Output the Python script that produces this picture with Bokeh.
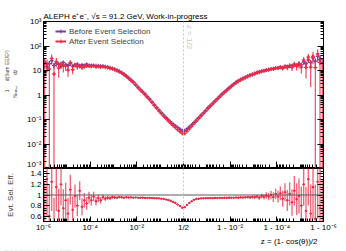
import numpy as np
from bokeh.plotting import figure
from bokeh.models import (FixedTicker, Label, Span, LinearAxis, LogAxis, Legend,
                          LegendItem, ColumnDataSource, Range1d, CustomLabelingPolicy, Title)
from bokeh.layouts import column
from bokeh.embed import file_html
from bokeh.resources import INLINE

# ---------------- data ----------------
# bins on the folded log axis: 0 = 1e-6, 6 = 1/2, 12 = 1 - 1e-6 (0.1 per bin)
bin_width = 0.1

before = [
    22, 14, 19, 25, 16, 20, 18, 15, 21, 17,
    16, 19, 15, 17, 18, 14.5, 17, 16, 18, 16,
    16.2, 16.0, 15.8, 15.6, 15.3, 15.0, 14.5, 13.8, 13.0, 12.2,
    11.3, 10.3, 9.3, 8.2, 7.1, 6.0, 5.0, 4.1, 3.4, 2.7,
    2.1, 1.68, 1.35, 1.09, 0.86, 0.68, 0.52, 0.40, 0.31, 0.24,
    0.19, 0.15, 0.12, 0.097, 0.079, 0.065, 0.055, 0.047, 0.040, 0.035,
    0.035, 0.041, 0.049, 0.060, 0.075, 0.094, 0.118, 0.148, 0.186, 0.234,
    0.30, 0.37, 0.46, 0.57, 0.71, 0.88, 1.1, 1.33, 1.6, 1.95,
    2.35, 2.8, 3.3, 3.8, 4.3, 4.8, 5.3, 5.9, 6.5, 7.0,
    7.6, 8.3, 8.9, 9.4, 9.9, 10.4, 10.9, 11.4, 11.9, 12.4,
    12.8, 13.4, 13.1, 14.2, 14.6, 15.5, 15.6, 16.8, 16.2, 18.5,
    17, 22, 19, 27, 21, 33, 24, 38, 28, 20,
]

eff = [
    0.35, 1.3, 0.6, 1.25, 0.45, 1.15, 0.7, 1.2, 0.75, 0.9,
    0.65, 1.1, 0.72, 0.98, 0.8, 1.08, 0.78, 0.9, 0.84, 0.95,
    0.9, 0.97, 0.88, 0.94, 0.9, 0.96, 0.93, 0.95, 0.94, 0.96,
    0.955, 0.95, 0.96, 0.955, 0.95, 0.957, 0.952, 0.955, 0.95, 0.953,
    0.95, 0.948, 0.95, 0.946, 0.944, 0.945, 0.942, 0.94, 0.938, 0.935,
    0.93, 0.925, 0.915, 0.905, 0.89, 0.87, 0.85, 0.82, 0.79, 0.76,
    0.77, 0.81, 0.85, 0.88, 0.91, 0.925, 0.93, 0.935, 0.937, 0.94,
    0.94, 0.942, 0.94, 0.945, 0.943, 0.946, 0.944, 0.947, 0.945, 0.95,
    0.948, 0.95, 0.953, 0.95, 0.955, 0.952, 0.956, 0.96, 0.955, 0.962,
    0.96, 0.97, 0.95, 0.98, 0.965, 0.99, 0.97, 1.0, 0.96, 1.02,
    0.97, 1.03, 0.93, 1.05, 0.9, 1.02, 0.86, 1.08, 0.92, 0.98,
    0.8, 1.2, 0.7, 1.3, 0.65, 1.15, 0.55, 1.25, 0.75, 0.4,
]

eff_err = [
    0.9, 0.7, 0.6, 0.55, 0.5, 0.45, 0.42, 0.4, 0.36, 0.33,
    0.3, 0.28, 0.25, 0.22, 0.2, 0.18, 0.16, 0.14, 0.12, 0.11,
    0.1, 0.09, 0.08, 0.07, 0.06, 0.05, 0.045, 0.04, 0.035, 0.03,
    0.025, 0.022, 0.02, 0.018, 0.016, 0.014, 0.013, 0.012, 0.011, 0.01,
    0.01, 0.01, 0.01, 0.01, 0.01, 0.01, 0.01, 0.01, 0.01, 0.01,
    0.01, 0.01, 0.01, 0.01, 0.01, 0.01, 0.01, 0.01, 0.01, 0.01,
    0.01, 0.01, 0.01, 0.01, 0.01, 0.01, 0.01, 0.01, 0.01, 0.01,
    0.01, 0.01, 0.011, 0.012, 0.013, 0.014, 0.015, 0.016, 0.018, 0.02,
    0.012, 0.013, 0.014, 0.015, 0.016, 0.018, 0.02, 0.022, 0.025, 0.028,
    0.03, 0.035, 0.04, 0.045, 0.05, 0.06, 0.07, 0.08, 0.09, 0.1,
    0.11, 0.13, 0.15, 0.17, 0.2, 0.22, 0.25, 0.28, 0.3, 0.33,
    0.36, 0.4, 0.45, 0.5, 0.55, 0.6, 0.65, 0.7, 0.8, 0.9,
]

x_tick_pos = [0, 2, 4, 6, 8, 10, 12]
x_tick_labels = ["10⁻⁶", "10⁻⁴", "10⁻²", "1/2", "1 - 10⁻²", "1 - 10⁻⁴", "1 - 10⁻⁶"]
y_tick_pos = [1e-3, 1e-2, 1e-1, 1, 10, 1e2, 1e3]
y_tick_labels = ["10⁻³", "10⁻²", "10⁻¹", "1", "10", "10²", "10³"]
r_tick_pos = [0.6, 0.8, 1.0, 1.2, 1.4]
r_tick_labels = ["0.6", "0.8", "1", "1.2", "1.4"]

title_text = "ALEPH e⁺e⁻,  √s = 91.2 GeV, Work-in-progress"
x_title = "z = (1- cos(θ))/2"
ratio_title = "Evt. Sel. Eff."
watermark = "Work-in-progress 2024 August 7th HG"
NB = "\u00a0"
# rotated fraction: outer line = numerators, inner line = denominators
y_title = (NB * 36 + "1" + NB * 6 + "d(Sum EE/E²)" + NB * 2 + "\n"
           + NB * 36 + "Nₑᵥₑₙₜ" + NB * 8 + "dz" + NB * 20)

# ---------------- derived ----------------
before = np.array(before, float)
eff = np.array(eff, float)
eff_err = np.array(eff_err, float)
u = np.arange(len(before)) * bin_width + bin_width / 2
after = before * eff
after_err = after * eff_err / eff
before_err = before * eff_err * 0.5

FONT = "Liberation Sans"
PURPLE = "#7d3c98"
RED = "#ee2a45"

# axis tick positions (decoration only)
x_minor = [1, 3, 5, 7, 9, 11]
for n in range(6):
    for k in range(2, 10):
        x_minor.append(n + np.log10(k))
        x_minor.append(12 - (n + np.log10(k)))
y_minor = [k * 10.0 ** e for e in range(-3, 3) for k in range(2, 10)]
r_minor = [round(0.5 + 0.05 * i, 2) for i in range(21)]
r_minor = [v for v in r_minor if v not in r_tick_pos]

NO_LABELS = """
try { for (let i = 0; i < indices.size; i++) { indices.unset(i) } } catch (e) {}
return indices
"""


def style(ax, tin, minin, labels=True):
    ax.major_tick_in = tin
    ax.major_tick_out = 0
    ax.minor_tick_in = minin
    ax.minor_tick_out = 0
    ax.axis_line_color = "black"
    ax.major_tick_line_color = "black"
    ax.minor_tick_line_color = "black"
    ax.major_label_text_font = FONT
    ax.major_label_text_color = "black"
    if labels:
        ax.major_label_text_font_size = "8px"
        ax.major_label_standoff = 2
    else:
        ax.major_label_policy = CustomLabelingPolicy(code=NO_LABELS)
        ax.major_label_text_font_size = "1px"
        ax.major_label_text_alpha = 0
        ax.major_label_standoff = 0


# ---------------- main panel ----------------
p1 = figure(frame_width=280, frame_height=147, x_range=Range1d(0, 12),
            y_range=Range1d(1e-3, 1e3), y_axis_type="log",
            output_backend="svg", toolbar_location=None,
            min_border_left=43, min_border_right=20, min_border_top=21,
            min_border_bottom=0)
p1.grid.visible = False
p1.outline_line_color = "black"

p1.title.text = title_text
p1.title.align = "left"
p1.title.text_font = FONT
p1.title.text_font_size = "8px"
p1.title.text_font_style = "normal"
p1.title.text_color = "black"
p1.title.standoff = 1

p1.xaxis.ticker = FixedTicker(ticks=x_tick_pos, minor_ticks=x_minor)
style(p1.xaxis[0], 7, 4, labels=False)
p1.yaxis.ticker = FixedTicker(ticks=y_tick_pos, minor_ticks=y_minor)
p1.yaxis.major_label_overrides = {p: l for p, l in zip(y_tick_pos, y_tick_labels)}
style(p1.yaxis[0], 6, 3)
p1.yaxis.axis_label = y_title
p1.yaxis.axis_label_text_font = FONT
p1.yaxis.axis_label_text_font_size = "5px"
p1.yaxis.axis_label_text_font_style = "normal"
p1.yaxis.axis_label_text_line_height = 1.4
p1.yaxis.axis_label_standoff = 6
ry = LogAxis(ticker=FixedTicker(ticks=y_tick_pos, minor_ticks=y_minor))
style(ry, 6, 3, labels=False)
p1.add_layout(ry, "right")

src_b = ColumnDataSource(dict(x0=u - bin_width / 2, x1=u + bin_width / 2, x=u, y=before,
                              lo=np.maximum(before - before_err, 1e-6), hi=before + before_err))
src_a = ColumnDataSource(dict(x0=u - bin_width / 2, x1=u + bin_width / 2, x=u, y=after,
                              lo=np.maximum(after - after_err, 1e-6), hi=after + after_err))

rb_v = p1.segment("x", "lo", "x", "hi", source=src_b, line_color=PURPLE, line_width=1.2)
rb_h = p1.segment("x0", "y", "x1", "y", source=src_b, line_color=PURPLE, line_width=2)
rb_m = p1.scatter("x", "y", source=src_b, marker="cross", size=4, line_color=PURPLE)
ra_v = p1.segment("x", "lo", "x", "hi", source=src_a, line_color=RED, line_width=1.2, line_alpha=0.85)
ra_h = p1.segment("x0", "y", "x1", "y", source=src_a, line_color=RED, line_width=2)
ra_m = p1.scatter("x", "y", source=src_a, marker="cross", size=4, line_color=RED)

p1.add_layout(Span(location=6, dimension="height", line_color="#c8c8c8",
                   line_dash="2 2", line_width=1))
p1.add_layout(Label(x=6, y=233, text="z = 1/2", angle=-np.pi / 2, text_align="center",
                    text_baseline="middle", text_font=FONT, text_font_size="8px",
                    text_color="#c4c4c4", x_offset=6))

leg = Legend(items=[LegendItem(label="Before Event Selection", renderers=[rb_h, rb_m]),
                    LegendItem(label="After Event Selection", renderers=[ra_h, ra_m])],
             location=(10, 120), padding=2, margin=0, spacing=0, glyph_width=11,
             glyph_height=10, label_standoff=3, label_height=10,
             label_text_font=FONT, label_text_font_size="8px",
             background_fill_alpha=0, border_line_alpha=0)
p1.add_layout(leg)

# ---------------- ratio panel ----------------
p2 = figure(frame_width=280, frame_height=53, x_range=p1.x_range,
            y_range=Range1d(0.5, 1.5), output_backend="svg", toolbar_location=None,
            min_border_left=43, min_border_right=20, min_border_top=0,
            min_border_bottom=30)
p2.grid.visible = False
p2.outline_line_color = "black"

p2.xaxis.ticker = FixedTicker(ticks=x_tick_pos, minor_ticks=x_minor)
p2.xaxis.major_label_overrides = {p: l for p, l in zip(x_tick_pos, x_tick_labels)}
style(p2.xaxis[0], 5, 3)
p2.xaxis.major_label_standoff = 1
p2.yaxis.ticker = FixedTicker(ticks=r_tick_pos, minor_ticks=r_minor)
p2.yaxis.major_label_overrides = {p: l for p, l in zip(r_tick_pos, r_tick_labels)}
style(p2.yaxis[0], 6, 3)
p2.yaxis.axis_label = ratio_title
p2.yaxis.axis_label_text_font = FONT
p2.yaxis.axis_label_text_font_size = "8px"
p2.yaxis.axis_label_text_font_style = "normal"
p2.yaxis.axis_label_standoff = 12
rr = LinearAxis(ticker=FixedTicker(ticks=r_tick_pos, minor_ticks=r_minor))
style(rr, 6, 3, labels=False)
p2.add_layout(rr, "right")

p2.add_layout(Title(text=x_title, align="right", offset=6, standoff=0,
                    text_font=FONT, text_font_size="8px", text_font_style="normal",
                    text_color="black"), "below")
p2.add_layout(Title(text=watermark, align="left", offset=-39, standoff=0,
                    text_font=FONT, text_font_size="4px", text_font_style="normal",
                    text_color="#e8e8e8"), "below")

p2.add_layout(Span(location=1, dimension="width", line_color="#5a5a5a", line_width=1))
p2.add_layout(Span(location=6, dimension="height", line_color="#c8c8c8",
                   line_dash="2 2", line_width=1))
src_r = ColumnDataSource(dict(x0=u - bin_width / 2, x1=u + bin_width / 2, x=u, y=eff,
                              lo=eff - eff_err, hi=eff + eff_err))
p2.segment("x", "lo", "x", "hi", source=src_r, line_color=RED, line_width=1.4, line_alpha=0.7)
p2.segment("x0", "y", "x1", "y", source=src_r, line_color=RED, line_width=1.2)
p2.scatter("x", "y", source=src_r, marker="circle", size=1.5, line_color=RED, fill_color=RED)

layout = column(p1, p2)
open("out.html", "w").write(file_html(layout, INLINE))
